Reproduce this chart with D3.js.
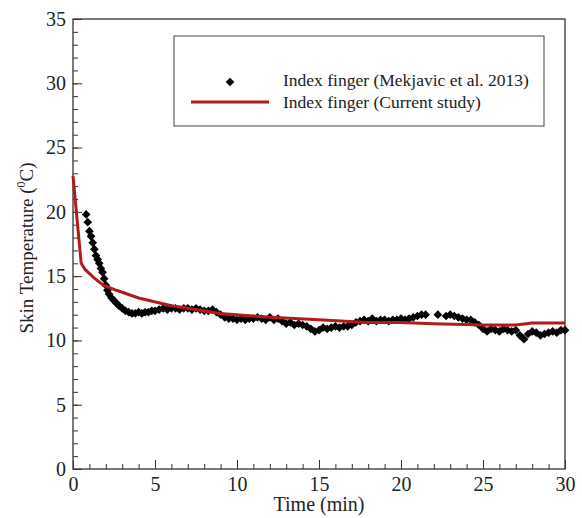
<!DOCTYPE html>
<html><head><meta charset="utf-8">
<script src="https://cdn.jsdelivr.net/npm/d3@7"></script>
<style>body{margin:0;background:#fff}svg{display:block}text{font-family:"Liberation Serif","Times New Roman",serif}</style>
</head><body>
<script>
const measTime = [0.8,0.9,1.0,1.1,1.2,1.3,1.4,1.5,1.6,1.7,1.8,1.9,2.0,2.1,2.2,2.35,2.5,2.65,2.8,3.0,3.2,3.4,3.6,3.8,4.0,4.2,4.4,4.6,4.8,5.0,5.25,5.5,5.75,6.0,6.25,6.5,6.75,7.0,7.25,7.5,7.75,8.0,8.25,8.5,8.75,9.0,9.25,9.5,9.75,10.0,10.25,10.5,10.75,11.0,11.25,11.5,11.75,12.0,12.25,12.5,12.75,13.0,13.25,13.5,13.75,14.0,14.25,14.5,14.75,15.0,15.25,15.5,15.75,16.0,16.25,16.5,16.75,17.0,17.25,17.5,17.75,18.0,18.25,18.5,18.75,19.0,19.25,19.5,19.75,20.0,20.25,20.5,20.75,21.0,21.25,21.5,22.25,22.75,23.0,23.25,23.5,23.75,24.0,24.25,24.5,24.75,25.0,25.25,25.5,25.75,26.0,26.25,26.5,26.75,27.0,27.25,27.5,27.75,28.0,28.25,28.5,28.75,29.0,29.25,29.5,29.75,30.0];
const measTemp = [19.8,19.2,18.5,18.1,17.6,17.1,16.6,16.3,16.0,15.6,15.3,14.8,14.3,13.9,13.6,13.3,13.1,12.9,12.7,12.5,12.3,12.2,12.1,12.1,12.2,12.1,12.2,12.2,12.3,12.3,12.4,12.5,12.4,12.5,12.5,12.4,12.5,12.5,12.4,12.5,12.4,12.3,12.3,12.4,12.2,12.0,11.8,11.7,11.7,11.6,11.7,11.6,11.7,11.7,11.8,11.7,11.6,11.8,11.6,11.7,11.5,11.3,11.4,11.2,11.3,11.2,11.1,10.9,10.7,10.8,11.0,10.9,11.0,11.1,11.0,11.1,11.1,11.2,11.4,11.5,11.6,11.5,11.7,11.5,11.6,11.6,11.5,11.6,11.6,11.7,11.6,11.7,11.8,11.9,12.0,12.0,12.0,11.9,12.0,11.9,11.8,11.7,11.6,11.6,11.4,11.2,10.9,10.7,10.9,10.8,10.7,10.9,10.8,10.7,10.8,10.4,10.1,10.5,10.7,10.6,10.4,10.5,10.6,10.7,10.6,10.8,10.8];
const simTime = [0,0.5,0.75,1.25,1.85,2.65,4.0,6.0,9.0,12,15,18,20,22,25,27,28,30];
const simTemp = [22.8,16.0,15.5,14.9,14.3,13.9,13.3,12.7,12.1,11.8,11.6,11.4,11.4,11.3,11.2,11.2,11.35,11.35];
const xTicks = [0,5,10,15,20,25,30];
const yTicks = [0,5,10,15,20,25,30,35];
const legendLabels = ["Index finger (Mekjavic et al. 2013)","Index finger (Current study)"];

const W=582,H=518, m={l:73,r:17,t:19,b:49};
const svg=d3.select("body").append("svg").attr("width",W).attr("height",H);
const x=d3.scaleLinear().domain([0,30]).range([m.l,W-m.r]);
const y=d3.scaleLinear().domain([0,35]).range([H-m.b,m.t]);
const axisCol="#333";

// frame
svg.append("rect").attr("x",m.l).attr("y",m.t).attr("width",x(30)-x(0)).attr("height",y(0)-y(35))
  .attr("fill","none").attr("stroke",axisCol).attr("stroke-width",1.3);

// x axis (ticks inward)
const gx=svg.append("g").attr("transform",`translate(0,${y(0)})`);
gx.call(d3.axisBottom(x).tickValues(d3.range(0,31,1)).tickSize(-5).tickFormat(""))
  .call(g=>g.select(".domain").remove()).selectAll("line").attr("stroke",axisCol);
const gx2=svg.append("g").attr("transform",`translate(0,${y(0)})`);
gx2.call(d3.axisBottom(x).tickValues(xTicks).tickSize(-9).tickPadding(8).tickFormat(d3.format("d")))
  .call(g=>g.select(".domain").remove());
gx2.selectAll("line").attr("stroke",axisCol);
gx2.selectAll("text").attr("font-size",20).attr("fill","#222").attr("font-family","Liberation Serif");

const gy=svg.append("g").attr("transform",`translate(${x(0)},0)`);
gy.call(d3.axisLeft(y).tickValues(d3.range(0,36,1)).tickSize(-5).tickFormat(""))
  .call(g=>g.select(".domain").remove()).selectAll("line").attr("stroke",axisCol);
const gy2=svg.append("g").attr("transform",`translate(${x(0)},0)`);
gy2.call(d3.axisLeft(y).tickValues(yTicks).tickSize(-9).tickPadding(7).tickFormat(d3.format("d")))
  .call(g=>g.select(".domain").remove());
gy2.selectAll("line").attr("stroke",axisCol);
gy2.selectAll("text").attr("font-size",20).attr("fill","#222").attr("font-family","Liberation Serif");

// axis titles
svg.append("text").attr("x",(x(0)+x(30))/2).attr("y",511).attr("text-anchor","middle")
  .attr("font-size",20).attr("fill","#222").text("Time (min)");
const yl=svg.append("text").attr("transform",`translate(33,248) rotate(-90)`)
  .attr("text-anchor","middle").attr("font-size",19).attr("fill","#222");
yl.append("tspan").text("Skin Temperature (");
yl.append("tspan").attr("font-size",12).attr("dy",-8).text("0");
yl.append("tspan").attr("dy",8).text("C)");

// data
const diamond=d3.symbol().type(d3.symbolSquare).size(38);
svg.append("g").selectAll("path").data(measTime.map((t,i)=>[t,measTemp[i]])).join("path")
  .attr("d",diamond).attr("transform",d=>`translate(${x(d[0])},${y(d[1])}) rotate(45)`).attr("fill","#000");
svg.append("path").datum(simTime.map((t,i)=>[t,simTemp[i]]))
  .attr("d",d3.line().x(d=>x(d[0])).y(d=>y(d[1])))
  .attr("fill","none").attr("stroke","#b31b1b").attr("stroke-width",3);

// legend
svg.append("rect").attr("x",174).attr("y",36).attr("width",370).attr("height",90)
  .attr("fill","#fff").attr("stroke","#444").attr("stroke-width",1);
svg.append("path").attr("d",diamond).attr("transform","translate(230,82) rotate(45)").attr("fill","#000");
svg.append("line").attr("x1",191).attr("x2",269).attr("y1",102).attr("y2",102)
  .attr("stroke","#b31b1b").attr("stroke-width",3);
svg.append("text").attr("x",283).attr("y",86).attr("font-size",17.5).attr("fill","#222").text(legendLabels[0]);
svg.append("text").attr("x",283).attr("y",108).attr("font-size",17.5).attr("fill","#222").text(legendLabels[1]);
</script>
</body></html>
